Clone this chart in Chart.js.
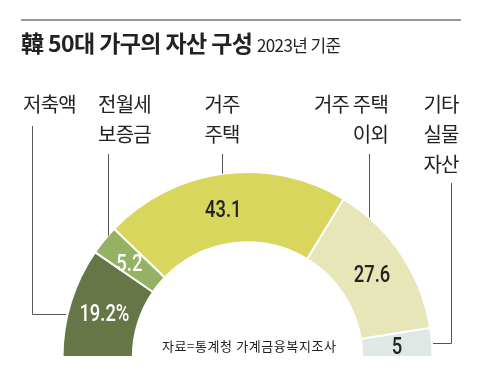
<!DOCTYPE html>
<html><head><meta charset="utf-8">
<script src="https://cdn.jsdelivr.net/npm/chart.js@4.4.1/dist/chart.umd.min.js"></script>
<style>
html,body{margin:0;padding:0;background:#fff;}
#wrap{position:relative;width:481px;height:380px;overflow:hidden;font-family:"Noto Sans CJK KR","Noto Sans",sans-serif;color:#222;}
#c{position:absolute;left:0;top:0;}
.t{position:absolute;white-space:nowrap;line-height:30px;}
#rule{position:absolute;left:21px;top:19px;width:440px;height:2px;background:#999;}
</style></head>
<body><div id="wrap">
<canvas id="c" width="481" height="380"></canvas>
<div id="rule"></div>
<div class="t" style="left:21px;top:27px;font-size:23px;font-weight:bold;letter-spacing:-0.6px;">韓 50대 가구의 자산 구성 <span style="font-size:17px;font-weight:normal;letter-spacing:-0.6px;">2023년 기준</span></div>
<div id="labels"></div>
<div class="t" style="left:162px;top:332px;font-size:13px;line-height:28px;letter-spacing:0.6px;">자료=통계청 가계금융복지조사</div>
</div>
<script>
const categories = ["저축액", "전월세\n보증금", "거주\n주택", "거주 주택\n이외", "기타\n실물\n자산"];
const values = [19.2, 5.2, 43.1, 27.6, 5];
const valueLabels = ["19.2%", "5.2", "43.1", "27.6", "5"];
const colors = ["#677647", "#93b264", "#d8d65c", "#e7e6b9", "#e0e8e5"];
const valueColors = ["#ffffff", "#ffffff", "#222222", "#222222", "#222222"];

// label layout (style only)
const labelPos = [
  {left: 18, top: 89, align: "center", w: 63},
  {left: 94, top: 89, align: "center", w: 61},
  {left: 200, top: 89, align: "center", w: 44},
  {left: 290, top: 89, align: "right", w: 98},
  {left: 419, top: 89, align: "center", w: 44}
];
const leaders = [
  {x: 32, y0: 126, hx: 66, hy: 314},
  {x: 108, y0: 154},
  {x: 222, y0: 154},
  {x: 369, y0: 154},
  {x: 451, y0: 183, hx: 433, hy: 343}
];

const lab = document.getElementById('labels');
categories.forEach((c, i) => {
  const d = document.createElement('div');
  d.className = 't';
  const p = labelPos[i];
  d.style.left = p.left + 'px'; d.style.top = p.top + 'px';
  d.style.width = p.w + 'px'; d.style.textAlign = p.align;
  d.style.fontSize = '20px';
  d.style.letterSpacing = '-0.8px';
  d.innerHTML = c.split('\n').join('<br>');
  lab.appendChild(d);
});

const overlay = {
  id: 'overlay',
  afterDatasetsDraw(chart) {
    const ctx = chart.ctx;
    const arcs = chart.getDatasetMeta(0).data;
    const cx = arcs[0].x, cy = arcs[0].y, R = arcs[0].outerRadius;
    ctx.save();
    ctx.strokeStyle = '#555';
    ctx.lineWidth = 1;
    leaders.forEach((l) => {
      ctx.beginPath();
      if (l.hx !== undefined) {
        ctx.moveTo(l.x + 0.5, l.y0);
        ctx.lineTo(l.x + 0.5, l.hy + 0.5);
        ctx.lineTo(l.hx, l.hy + 0.5);
      } else {
        const dx = l.x - cx;
        const yEnd = cy - Math.sqrt(R * R - dx * dx);
        ctx.moveTo(l.x + 0.5, l.y0);
        ctx.lineTo(l.x + 0.5, yEnd);
      }
      ctx.stroke();
    });
    ctx.font = '500 23px Roboto, "Liberation Sans", sans-serif';
    ctx.textAlign = 'center';
    ctx.textBaseline = 'middle';
    arcs.forEach((a, i) => {
      const p = a.tooltipPosition();
      ctx.save();
      ctx.translate(p.x - (i === 2 ? 5 : i === 1 ? 2 : 0), p.y + 3);
      ctx.scale(0.8, 1);
      ctx.fillStyle = valueColors[i];
      ctx.fillText(valueLabels[i], 0, 0);
      ctx.restore();
    });
    ctx.restore();
  }
};

new Chart(document.getElementById('c'), {
  type: 'doughnut',
  data: {
    labels: categories,
    datasets: [{
      data: values,
      backgroundColor: colors,
      borderColor: '#ffffff',
      borderWidth: 2
    }]
  },
  options: {
    responsive: false,
    animation: false,
    rotation: -90,
    circumference: 180,
    radius: 185,
    cutout: '62%',
    layout: {padding: {left: 61.5, right: 47.5, top: 171, bottom: 22}},
    plugins: {legend: {display: false}, tooltip: {enabled: false}, title: {display: false}}
  },
  plugins: [overlay]
});
</script>
</body></html>
